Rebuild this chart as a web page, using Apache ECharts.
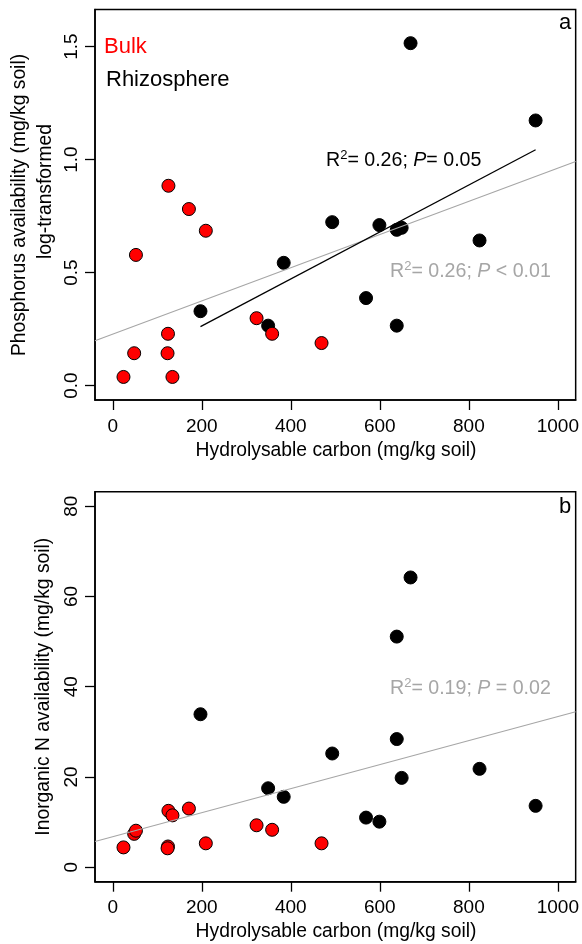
<!DOCTYPE html>
<html lang="en">
<head>
    <meta charset="UTF-8">
    <title>Hydrolysable carbon vs P and N availability</title>
    <script src="https://cdn.jsdelivr.net/npm/echarts@6/dist/echarts.min.js"></script>
    <style>
        *{
            margin:0;
            padding:0;
        }
        #main{
            width:582px;
            height:944px;
            background:#fff;
        }
    </style>
</head>
<body>
    <div id="main"></div>
    <script>
        // hydrolysable carbon (mg/kg soil), same samples in both panels
        var carbonBulk = [24, 48, 52, 125, 171, 209, 124, 123, 134, 323, 358, 469]
        var carbonRhizo = [197, 349, 384, 493, 569, 599, 638, 649, 669, 638, 824, 950]

        // panel a: phosphorus availability, log-transformed
        var phosBulk = [0.038, 0.143, 0.578, 0.884, 0.781, 0.685, 0.229, 0.143, 0.038, 0.298, 0.229, 0.188]
        var phosRhizo = [0.329, 0.265, 0.543, 0.723, 0.387, 0.710, 0.689, 0.698, 1.515, 0.265, 0.642, 1.173]

        // panel b: inorganic N availability (mg/kg soil)
        var nitroBulk = [4.4, 7.4, 8.1, 12.5, 13.0, 5.3, 4.6, 4.2, 11.5, 9.3, 8.3, 5.3]
        var nitroRhizo = [33.9, 17.5, 15.6, 25.2, 11.0, 10.1, 28.4, 19.8, 64.2, 51.1, 21.8, 13.6]

        // regression fits (intercept, slope)
        var fitPhosAll = [0.228, 0.000734]
        var fitPhosRhizo = [0.0563, 0.001039]
        var fitNitroAll = [6.76, 0.02662]

        var xTicks = [0, 200, 400, 600, 800, 1000]
        var phosTicks = [0, 0.5, 1.0, 1.5]
        var nitroTicks = [0, 20, 40, 60, 80]

        var xLim = [-40, 1040]   // xlim 0..1000 plus R's 4% padding

        function pairs(xs, ys){
            var out = []
            for (var i = 0; i < xs.length; i++) out.push([xs[i], ys[i]])
            return out
        }
        function fitLine(fit, x0, x1){
            return [[x0, fit[0] + fit[1]*x0], [x1, fit[0] + fit[1]*x1]]
        }

        var fontFam = '"Liberation Sans", Arial, sans-serif'
        var grey = '#a6a6a6'

        function xAxisCfg(idx){
            return {
                type: 'value', gridIndex: idx, min: xLim[0], max: xLim[1],
                axisLine: {show: true, onZero: false, lineStyle: {color: '#000', width: 1.5}},
                axisTick: {show: true, inside: false, length: 10, customValues: xTicks,
                    lineStyle: {color: '#000', width: 1.3}},
                axisLabel: {customValues: xTicks, margin: 17, color: '#000',
                    fontSize: 19, fontFamily: fontFam,
                    formatter: function(v){ return String(v) }},
                splitLine: {show: false}
            }
        }
        function yAxisCfg(idx, lim, ticks, dec){
            return {
                type: 'value', gridIndex: idx, min: lim[0], max: lim[1],
                axisLine: {show: true, onZero: false, lineStyle: {color: '#000', width: 1.5}},
                axisTick: {show: true, inside: false, length: 10, customValues: ticks,
                    lineStyle: {color: '#000', width: 1.3}},
                axisLabel: {customValues: ticks, margin: 14, rotate: 90, color: '#000',
                    fontSize: 19, fontFamily: fontFam,
                    formatter: function(v){ return v.toFixed(dec) }},
                splitLine: {show: false}
            }
        }

        function pointSeries(idx, data, fill){
            return {
                type: 'scatter', xAxisIndex: idx, yAxisIndex: idx, data: data,
                symbol: 'circle', symbolSize: 13, z: fill === '#000' ? 2 : 3,
                itemStyle: {color: fill, borderColor: '#000', borderWidth: 1, opacity: 1},
                emphasis: {disabled: true}, silent: true
            }
        }
        function lineSeries(idx, data, color, w){
            return {
                type: 'line', xAxisIndex: idx, yAxisIndex: idx, data: data,
                showSymbol: false, z: 5, silent: true,
                lineStyle: {color: color, width: w}
            }
        }

        function txt(x, y, str, opt){
            opt = opt || {}
            return {
                type: 'text', x: x, y: y, rotation: opt.rot || 0, z: 10,
                style: {
                    text: str, fill: opt.color || '#000', fontSize: opt.size || 19.3,
                    fontFamily: fontFam, align: opt.align || 'center', verticalAlign: 'middle',
                    rich: opt.rich
                }
            }
        }
        function statRich(color){
            return {
                n: {fill: color, color: color, fontSize: 19.6, lineHeight: 24, fontFamily: fontFam},
                i: {fill: color, color: color, fontSize: 19.6, lineHeight: 24, fontFamily: fontFam, fontStyle: 'italic'},
                s: {fill: color, color: color, fontSize: 13, lineHeight: 13, verticalAlign: 'top', fontFamily: fontFam}
            }
        }

        var myChart = echarts.init(document.getElementById('main'), null, {renderer: 'canvas'})
        var option = {
            animation: false,
            backgroundColor: '#fff',
            grid: [
                {left: 95, right: 4, top: 9.5, height: 390.5, show: true,
                    borderColor: '#000', borderWidth: 1.5, backgroundColor: 'transparent'},
                {left: 95, right: 4, top: 491.7, height: 390, show: true,
                    borderColor: '#000', borderWidth: 1.5, backgroundColor: 'transparent'}
            ],
            xAxis: [xAxisCfg(0), xAxisCfg(1)],
            yAxis: [
                yAxisCfg(0, [-0.064, 1.664], phosTicks, 1),
                yAxisCfg(1, [-3.2, 83.2], nitroTicks, 0)
            ],
            series: [
                pointSeries(0, pairs(carbonRhizo, phosRhizo), '#000'),
                pointSeries(0, pairs(carbonBulk, phosBulk), '#ff0000'),
                lineSeries(0, fitLine(fitPhosAll, xLim[0], xLim[1]), grey, 1.1),
                lineSeries(0, fitLine(fitPhosRhizo, 197, 950), '#000', 1.3),
                pointSeries(1, pairs(carbonRhizo, nitroRhizo), '#000'),
                pointSeries(1, pairs(carbonBulk, nitroBulk), '#ff0000'),
                lineSeries(1, fitLine(fitNitroAll, xLim[0], xLim[1]), grey, 1.1)
            ],
            graphic: [
                // axis titles
                txt(336, 451, 'Hydrolysable carbon (mg/kg soil)'),
                txt(336, 931.5, 'Hydrolysable carbon (mg/kg soil)'),
                txt(20, 205, 'Phosphorus availability (mg/kg soil)', {rot: Math.PI/2}),
                txt(45.5, 191.5, 'log-transformed', {rot: Math.PI/2}),
                txt(44, 686.7, 'Inorganic N availability (mg/kg soil)', {rot: Math.PI/2}),
                // panel letters
                txt(565, 23, 'a', {size: 22}),
                txt(565, 507, 'b', {size: 22}),
                // legend text
                txt(104, 47, 'Bulk', {size: 22, color: '#ff0000', align: 'left'}),
                txt(106, 80, 'Rhizosphere', {size: 22, align: 'left'}),
                // regression stats
                txt(326, 161, '{n|R}{s|2}{n|= 0.26; }{i|P}{n|= 0.05}', {align: 'left', rich: statRich('#000')}),
                txt(390, 271.5, '{n|R}{s|2}{n|= 0.26; }{i|P}{n| < 0.01}', {align: 'left', color: grey, rich: statRich(grey)}),
                txt(390, 689, '{n|R}{s|2}{n|= 0.19; }{i|P}{n| = 0.02}', {align: 'left', color: grey, rich: statRich(grey)})
            ]
        }
        myChart.setOption(option)
    </script>
</body>
</html>
